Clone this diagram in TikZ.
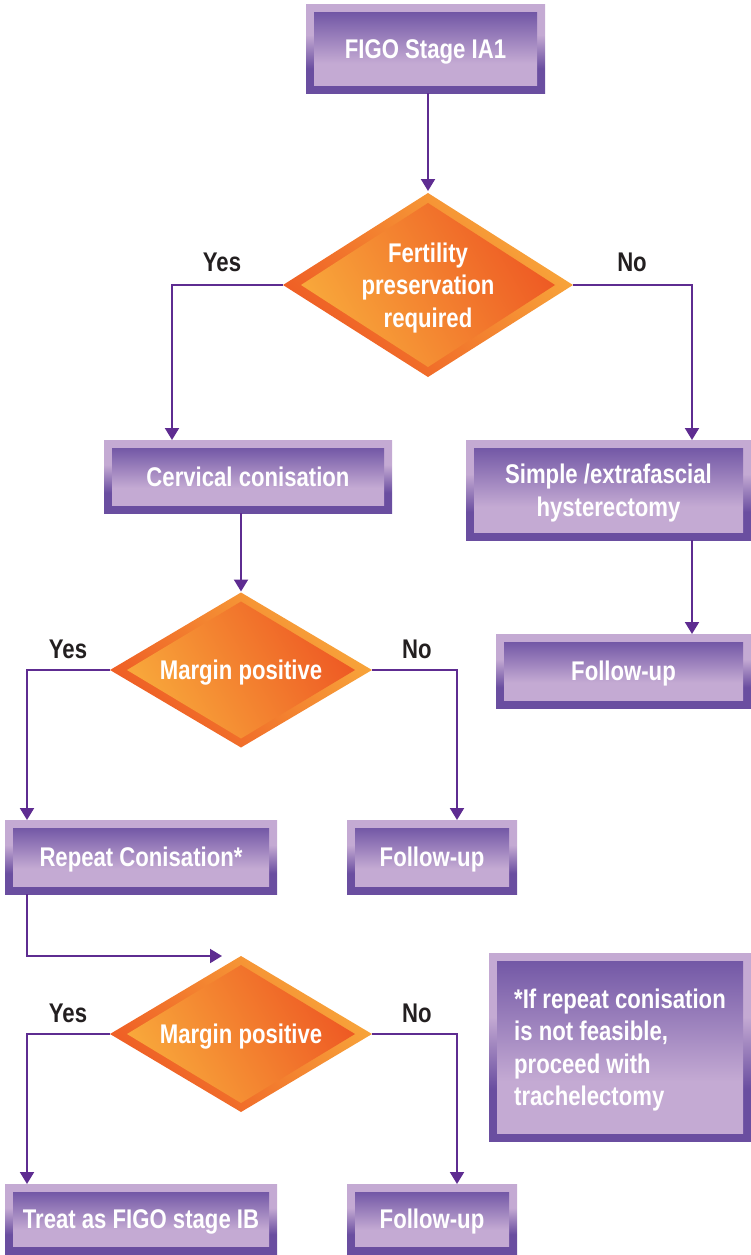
\documentclass[tikz,border=0pt]{standalone}
\usepackage{fontspec}
\usetikzlibrary{arrows.meta,shapes.geometric,calc}
\newfontfamily\narrowsans{Liberation Sans}[FakeStretch=0.82]

\definecolor{pdark}{HTML}{6A4EA0}
\definecolor{pinner}{HTML}{7358A6}
\definecolor{plight}{HTML}{C4AAD3}
\definecolor{olight}{HTML}{F8A83B}
\definecolor{odark}{HTML}{EE5A24}
\definecolor{linecol}{HTML}{5E2C91}
\definecolor{labcol}{HTML}{231F20}

% frame: dark at the bottom, light at the top
\pgfdeclareverticalshading{frameshade}{100bp}{color(0bp)=(pdark); color(39bp)=(pdark); color(58bp)=(plight); color(100bp)=(plight)}
% inner panel: light at the bottom, dark at the top
\pgfdeclareverticalshading{panelshade}{100bp}{color(0bp)=(plight); color(40bp)=(plight); color(75bp)=(pinner); color(100bp)=(pinner)}

\tikzset{
  lab/.style={font=\narrowsans\bfseries\fontsize{27}{32.5}\selectfont, text depth=0pt},
  pbox/.style={lab, text=white, align=center, inner sep=0pt, outer sep=0pt,
    path picture={
      \shade[shading=frameshade] (path picture bounding box.south west) rectangle (path picture bounding box.north east);
      \shade[shading=panelshade] ([shift={(8pt,8pt)}]path picture bounding box.south west) rectangle ([shift={(-8pt,-8pt)}]path picture bounding box.north east);
    }},
  dia/.style 2 args={shape=diamond, inner sep=0pt, outer sep=0pt,
    path picture={
      \shade[left color=odark, right color=olight, shading angle=135]
        (path picture bounding box.south west) rectangle (path picture bounding box.north east);
      \shade[left color=olight, right color=odark, shading angle=120]
        ([xshift=#1pt]path picture bounding box.west) -- ([yshift=-#2pt]path picture bounding box.north)
        -- ([xshift=-#1pt]path picture bounding box.east) -- ([yshift=#2pt]path picture bounding box.south) -- cycle;
    }},
  dtext/.style={lab, text=white, align=center, inner sep=0pt},
  yn/.style={lab, text=labcol, inner sep=0pt},
  conn/.style={draw=linecol, line width=2pt, -{Triangle[length=12pt,width=14pt]}},
}

\begin{document}
\begin{tikzpicture}[x=1pt,y=-1pt]
\useasboundingbox (0,0) rectangle (751,1255);

% boxes
\node[pbox, minimum width=239pt, minimum height=88pt] (b1) at (425.5,49) {FIGO Stage IA1};
\node[pbox, minimum width=288pt, minimum height=73pt] (b2) at (248,476.5) {Cervical conisation};
\node[pbox, minimum width=285pt, minimum height=100pt] (b3) at (608.5,490) {Simple /extrafascial\\hysterectomy};
\node[pbox, minimum width=255pt, minimum height=74pt] (b4) at (623.5,671) {Follow-up};
\node[pbox, minimum width=272pt, minimum height=74pt] (b5) at (141,857) {Repeat Conisation*};
\node[pbox, minimum width=170pt, minimum height=74pt] (b6) at (432,857) {Follow-up};
\node[pbox, minimum width=272pt, minimum height=70pt] (b7) at (141,1219) {Treat as FIGO stage IB};
\node[pbox, minimum width=170pt, minimum height=70pt] (b8) at (432,1219) {Follow-up};
\node[pbox, minimum width=262pt, minimum height=188pt, align=left] (note) at (620,1047)
  {*If repeat conisation\\is not feasible,\\proceed with\\trachelectomy};

% decisions
\node[dia={18}{10}, minimum width=290pt, minimum height=184pt] (d1) at (428,285) {};
\node[dtext] (t1) at (d1) {Fertility\\preservation\\required};
\node[dia={17}{9}, minimum width=262pt, minimum height=155pt] (d2) at (241,670) {};
\node[dtext] (t2) at (d2) {Margin positive};
\node[dia={17}{9}, minimum width=262pt, minimum height=156pt] (d3) at (241,1034) {};
\node[dtext] (t3) at (d3) {Margin positive};

% yes / no labels
\node[yn] (y1) at (222,262) {Yes};
\node[yn] (n1) at (632,262) {No};
\node[yn] (y2) at (68,649) {Yes};
\node[yn] (n2) at (417,649) {No};
\node[yn] (y3) at (68,1013) {Yes};
\node[yn] (n3) at (417,1013) {No};

\coordinate (c1) at ([xshift=-19pt]d3.north);

% connectors
\draw[conn] (d1.north |- b1.south) -- ([yshift=2pt]d1.north);
\draw[conn] (d1.west) -| ([xshift=-76pt]b2.north);
\draw[conn] (d1.east) -| ([xshift=83.5pt]b3.north);
\draw[conn] (d2.north |- b2.south) -- ([yshift=1pt]d2.north);
\draw[conn] ([xshift=83.5pt]b3.south) -- ([xshift=83.5pt]b3.south |- b4.north);
\draw[conn] (d2.west) -| ([xshift=-114pt]b5.north);
\draw[conn] (d2.east) -| ([xshift=25pt]b6.north);
\draw[conn] ([xshift=-114pt]b5.south) |- (c1);
\draw[conn] (d3.west) -| ([xshift=-114pt]b7.north);
\draw[conn] (d3.east) -| ([xshift=25pt]b8.north);
\end{tikzpicture}
\end{document}
